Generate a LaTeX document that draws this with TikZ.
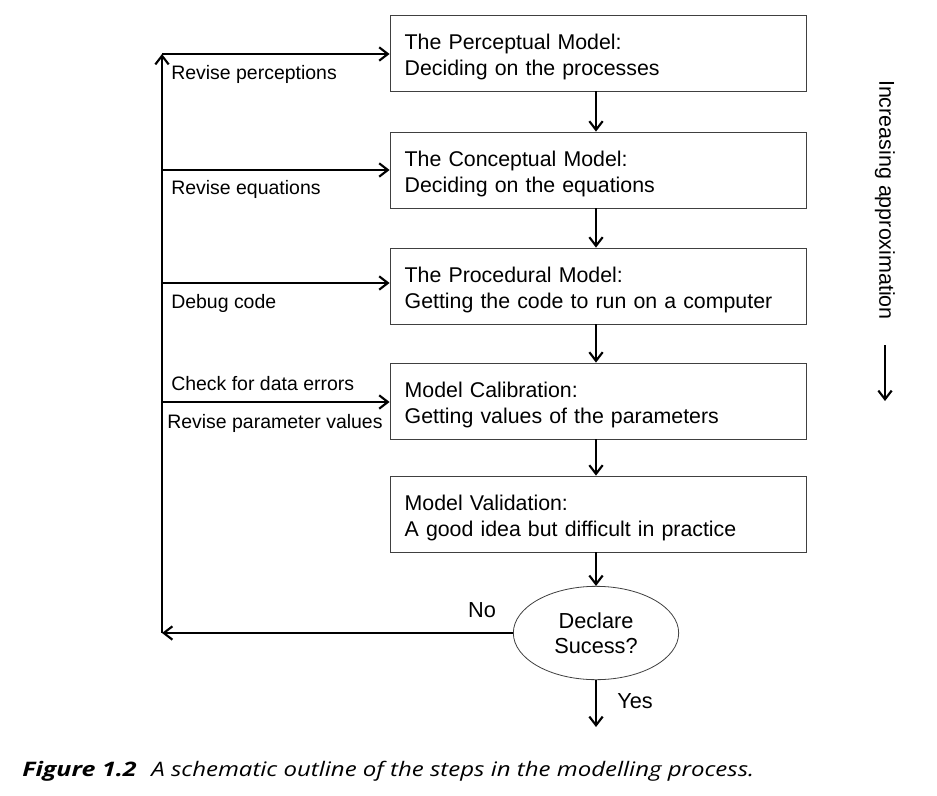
\documentclass[tikz,border=0pt]{standalone}
\usepackage{fontspec}
\setmainfont{Liberation Sans}
\newfontfamily\capfont{Open Sans}
\usetikzlibrary{arrows.meta,shapes.geometric}
\newcommand{\topstrut}{\rule{0pt}{17.7pt}}
\begin{document}
\begin{tikzpicture}[x=0.75pt,y=-0.75pt,
  box/.style={draw=black!75,line width=0.6pt,minimum width=312pt,minimum height=57pt,
    align=left,text width=290pt,inner sep=0pt,font=\fontsize{16}{19.5}\selectfont},
  conn/.style={line width=1.8pt,-{Straight Barb[length=6.5pt,width=10pt,line width=1.6pt]}},
  lbl/.style={font=\fontsize{14.6}{17}\selectfont,anchor=west,inner sep=0pt},
  dec/.style={draw=black!75,line width=0.6pt,ellipse,minimum width=124pt,minimum height=70pt,
    align=center,inner sep=0pt,font=\fontsize{16.3}{19}\selectfont}]
\useasboundingbox (0,0) rectangle (937,795);
\fill[white] (0,0) rectangle (937,795);

\node[box] (b1) at (598,53) {\topstrut The Perceptual Model:\\Deciding on the processes};
\node[box] (b2) at (598,170) {\topstrut The Conceptual Model:\\Deciding on the equations};
\node[box] (b3) at (598,286) {\topstrut The Procedural Model:\\Getting the code to run on a computer};
\node[box] (b4) at (598,401) {\topstrut Model Calibration:\\Getting values of the parameters};
\node[box] (b5) at (598,514) {\topstrut Model Validation:\\A good idea but difficult in practice};
\node[dec] (d) at (596,633) {Declare\\Sucess?};

\coordinate (c0) at (162,633);
\coordinate (c1) at (162,54);
\coordinate (c2) at (162,170);
\coordinate (c3) at (162,283);
\coordinate (c4) at (162,402);
\coordinate (yend) at (596,727);

\draw[conn] (b1.south -| d.north) -- (b2.north -| d.north);
\draw[conn] (b2.south -| d.north) -- (b3.north -| d.north);
\draw[conn] (b3.south -| d.north) -- (b4.north -| d.north);
\draw[conn] (b4.south -| d.north) -- (b5.north -| d.north);
\draw[conn] (b5.south -| d.north) -- (d.north);
\draw[conn] (d.south) -- (yend);
\draw[conn] (d.west) -- (c0);
\draw[conn] (c0) -- (c1);
\draw[conn] (c1) -- (c1 -| b1.west);
\draw[conn] (c2) -- (c2 -| b2.west);
\draw[conn] (c3) -- (c3 -| b3.west);
\draw[conn] (c4) -- (c4 -| b4.west);

\node[lbl] (l1) at (171,74) {Revise perceptions};
\node[lbl] (l2) at (171,189) {Revise equations};
\node[lbl] (l3) at (171,303) {Debug code};
\node[lbl] (l4) at (171,384) {Check for data errors};
\node[lbl] (l5) at (167,423) {Revise parameter values};
\node[font=\fontsize{16.3}{19}\selectfont,inner sep=0pt] (no) at (482,610) {No};
\node[font=\fontsize{16.3}{19}\selectfont,inner sep=0pt] (yes) at (635,701) {Yes};

\node[rotate=-90,font=\fontsize{16.1}{19}\selectfont,inner sep=0pt] (inc) at (885,200) {Increasing approximation};
\coordinate (ia) at (885,345);
\coordinate (ib) at (885,401);
\draw[conn] (ia) -- (ib);

\node[anchor=base west,inner sep=0pt,font=\capfont\fontsize{15}{18}\selectfont] (cap) at (22,776)
  {\scalebox{1.25}[1]{\textbf{\textit{Figure 1.2}}}\hspace{11pt}\scalebox{1.2}[1]{\textit{A schematic outline of the steps in the modelling process.}}};
\end{tikzpicture}
\end{document}
